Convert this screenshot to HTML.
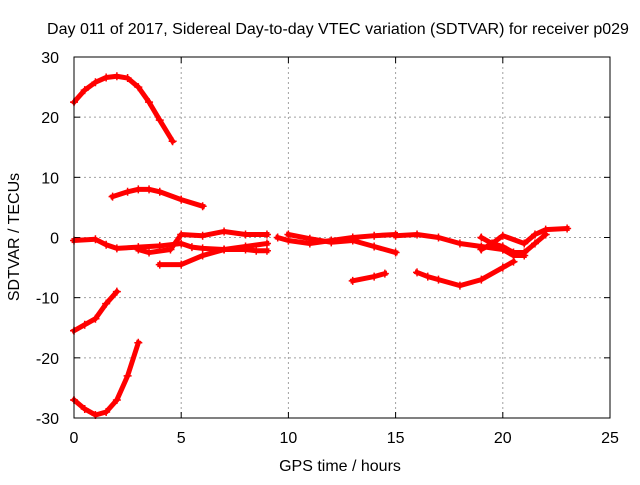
<!DOCTYPE html>
<html><head><meta charset="utf-8">
<style>
body{margin:0;background:#fff;}
svg text{font-family:"Liberation Sans",sans-serif;font-size:16px;fill:#000;}
</style></head>
<body>
<svg id="chart" width="640" height="480" viewBox="0 0 640 480" xmlns="http://www.w3.org/2000/svg">
<rect width="640" height="480" fill="#fff"/>
<text x="338" y="34" text-anchor="middle">Day 011 of 2017, Sidereal Day-to-day VTEC variation (SDTVAR) for receiver p029</text>
<g id="grid"></g>
<g id="ticks"></g>
<g id="series"></g>
<rect x="74" y="57" width="536" height="361" fill="none" stroke="#000" stroke-width="1"/>
<text x="340" y="471" text-anchor="middle">GPS time / hours</text>
<text transform="translate(19,237) rotate(-90)" text-anchor="middle">SDTVAR / TECUs</text>
</svg>
<script>
const xTicks=[0,5,10,15,20,25];
const yTicks=[-30,-20,-10,0,10,20,30];
const track1=[[0,22.5],[0.5,24.5],[1,25.8],[1.5,26.6],[2,26.8],[2.5,26.5],[3,25],[3.5,22.5],[4,19.5],[4.6,16]];
const track2=[[1.8,6.8],[2.5,7.6],[3,8],[3.5,8],[4,7.6],[5,6.3],[6,5.2]];
const track3=[[0,-0.5],[1,-0.3],[1.5,-1.2],[2,-1.8],[3,-1.6],[4,-1.4],[5,-1],[5.5,-1.6],[6,-1.8],[7,-2],[8,-2],[8.5,-2.2],[9,-2.2]];
const track4=[[3,-2],[3.5,-2.5],[4.5,-2],[5,0.5],[6,0.3],[7,1],[8,0.5],[9,0.5]];
const track5=[[4,-4.5],[5,-4.5],[6,-3],[7,-2],[8,-1.5],[9,-1]];
const track6=[[9.5,0],[10,-0.5],[11,-1],[12,-0.5],[13,0],[14,0.3],[15,0.5]];
const track7=[[10,0.5],[11,-0.2],[12,-0.8],[13,-0.5],[14,-1.5],[15,-2.5]];
const track8=[[13,-7.2],[14,-6.5],[14.5,-6]];
const track9=[[15,0.3],[16,0.5],[17,0],[18,-1],[19,-1.5],[20,-2],[20.5,-3],[21,-3]];
const track10=[[16,-5.8],[16.5,-6.5],[17,-7],[18,-8],[19,-7],[20,-5],[20.5,-4]];
const track11=[[19,0],[19.5,-1],[20,0.3],[21,-1],[21.5,0.5],[22,1.3],[23,1.5]];
const track12=[[19,-2],[19.5,-1],[20,-1.5],[20.5,-2.5],[21,-2.5],[21.5,-1],[22,0.5]];
const track13=[[0,-15.5],[0.5,-14.5],[1,-13.5],[1.5,-11],[2,-9]];
const track14=[[0,-27],[0.5,-28.5],[1,-29.5],[1.5,-29],[2,-27],[2.5,-23],[3,-17.5]];
const tracks=[track1,track2,track3,track4,track5,track6,track7,track8,track9,track10,track11,track12,track13,track14];

const NS="http://www.w3.org/2000/svg";
const X0=74,X1=610,Y0=418,Y1=57;
function xs(v){return X0+(v-0)/(25-0)*(X1-X0);}
function ys(v){return Y0-(v+30)/60*(Y0-Y1);}
function mk(tag,attrs,parent){const e=document.createElementNS(NS,tag);for(const k in attrs)e.setAttribute(k,attrs[k]);parent.appendChild(e);return e;}
const grid=document.getElementById('grid'),ticks=document.getElementById('ticks'),series=document.getElementById('series');
xTicks.forEach(t=>{
  const x=xs(t);
  if(t>0&&t<25){const g=mk('line',{x1:x,x2:x,y1:Y1,y2:Y0,stroke:'#a0a0a0','stroke-dasharray':'2,3','stroke-width':1},grid);
  
  }
  mk('line',{x1:x,x2:x,y1:Y0,y2:Y0-6,stroke:'#000'},ticks);
  mk('line',{x1:x,x2:x,y1:Y1,y2:Y1+6,stroke:'#000'},ticks);
  const l=mk('text',{x:x,y:Y0+25,'text-anchor':'middle'},ticks);l.textContent=t;
  
  
});
yTicks.forEach(t=>{
  const y=ys(t);
  if(t>-30&&t<30){const g=mk('line',{x1:X0,x2:X1,y1:y,y2:y,stroke:'#a0a0a0','stroke-dasharray':'2,3','stroke-width':1},grid);
  
  }
  mk('line',{x1:X0,x2:X0+6,y1:y,y2:y,stroke:'#000'},ticks);
  mk('line',{x1:X1,x2:X1-6,y1:y,y2:y,stroke:'#000'},ticks);
  const l=mk('text',{x:X0-15,y:y+6,'text-anchor':'end'},ticks);l.textContent=t;
  
  
});
tracks.forEach((tr,i)=>{
  const p=mk('polyline',{points:tr.map(d=>xs(d[0])+','+ys(d[1])).join(' '),fill:'none',stroke:'#f00','stroke-width':5,'stroke-linejoin':'round','stroke-linecap':'square'},series);
  
  
  tr.forEach(d=>{
    const x=xs(d[0]),y=ys(d[1]);
    const m=mk('path',{d:`M${x-4},${y}H${x+4}M${x},${y-4}V${y+4}`,stroke:'#f00','stroke-width':1.5},series);
    
    
  });
});
</script>
</body></html>
